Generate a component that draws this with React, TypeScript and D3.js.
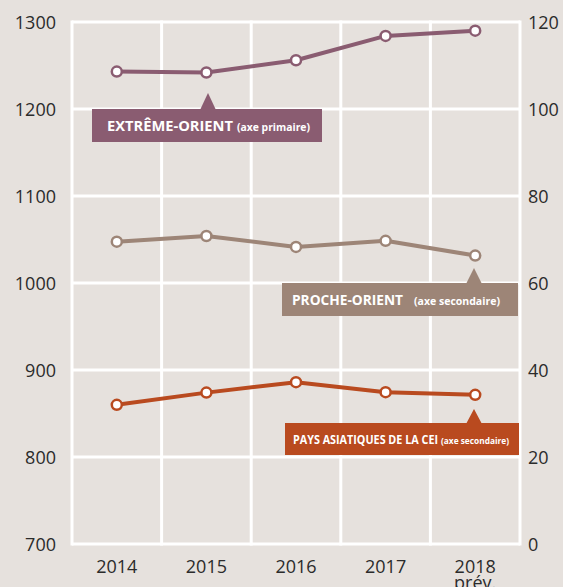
import React from "react";
import * as d3 from "d3";

const years = ["2014", "2015", "2016", "2017", "2018"];
const extremeOrient = [1243, 1242, 1256, 1284, 1290]; // primary axis
const procheOrient = [69.5, 70.8, 68.3, 69.7, 66.3]; // secondary axis
const cei = [32.0, 34.8, 37.2, 34.9, 34.3]; // secondary axis
const leftTicks = [700, 800, 900, 1000, 1100, 1200, 1300];
const rightTicks = [0, 20, 40, 60, 80, 100, 120];

const W = 563;
const H = 587;
const M = { left: 72, right: 520, top: 22, bottom: 544 };
const BG = "#e6e1dd";
const C_EO = "#8a5c71";
const C_PO = "#9d8577";
const C_CEI = "#b94a1f";
const FONT = "'Open Sans', 'Noto Sans', sans-serif";

export default function App() {
  const x = d3.scaleBand<string>().domain(years).range([M.left, M.right]);
  const yL = d3.scaleLinear().domain([700, 1300]).range([M.bottom, M.top]);
  const yR = d3.scaleLinear().domain([0, 120]).range([M.bottom, M.top]);
  const cx = (i: number) => (x(years[i]) as number) + x.bandwidth() / 2;

  const lineL = d3.line<number>().x((_, i) => cx(i)).y((d) => yL(d));
  const lineR = d3.line<number>().x((_, i) => cx(i)).y((d) => yR(d));

  const series = [
    { data: extremeOrient, color: C_EO, line: lineL, y: yL },
    { data: procheOrient, color: C_PO, line: lineR, y: yR },
    { data: cei, color: C_CEI, line: lineR, y: yR },
  ];

  const edges = [...years.map((y) => x(y) as number), M.right];

  const callout = (
    bx: number, by: number, bw: number, bh: number,
    ax: number, ay: number, color: string,
    main: string, sub: string, mainSize: number, subSize: number,
    tx: number, ty: number, mainLen: number, subX: number, subLen: number
  ) => (
    <g>
      <path d={`M${ax - 8},${by + 1} L${ax},${ay} L${ax + 8},${by + 1} Z`} fill={color} />
      <rect x={bx} y={by} width={bw} height={bh} fill={color} />
      <text x={tx} y={ty} fill="#fff" fontFamily={FONT} fontWeight="bold" fontSize={mainSize}
        textLength={mainLen} lengthAdjust="spacingAndGlyphs">
        {main}
      </text>
      <text x={subX} y={ty} fill="#fff" fontFamily={FONT} fontWeight="bold" fontSize={subSize}
        textLength={subLen} lengthAdjust="spacingAndGlyphs">
        {sub}
      </text>
    </g>
  );

  return (
    <svg width={W} height={H} style={{ position: "absolute", left: 0, top: 0 }}>
      <rect width={W} height={H} fill={BG} />
      {leftTicks.map((t) => (
        <line key={"h" + t} x1={M.left} x2={M.right} y1={yL(t)} y2={yL(t)} stroke="#fff" strokeWidth={3} />
      ))}
      {edges.map((e, i) => (
        <line key={"v" + i} x1={e} x2={e} y1={M.top - 1.5} y2={M.bottom + 1.5} stroke="#fff" strokeWidth={3} />
      ))}
      {leftTicks.map((t) => (
        <text key={"lt" + t} x={56} y={yL(t) + 6.5} textAnchor="end" fontFamily={FONT} fontSize={18} fill="#2b2b2b">
          {t}
        </text>
      ))}
      {rightTicks.map((t) => (
        <text key={"rt" + t} x={528} y={yR(t) + 6.5} textAnchor="start" fontFamily={FONT} fontSize={18} fill="#2b2b2b">
          {t}
        </text>
      ))}
      {years.map((yv, i) => (
        <text key={"x" + yv} x={cx(i)} y={573} textAnchor="middle" fontFamily={FONT} fontSize={18} fill="#2b2b2b">
          {yv}
        </text>
      ))}
      <text x={cx(4)} y={589} textAnchor="middle" fontFamily={FONT} fontSize={18} fill="#2b2b2b">
        prév.
      </text>
      {series.map((s, k) => (
        <g key={"s" + k}>
          <path d={s.line(s.data) as string} fill="none" stroke={s.color} strokeWidth={4} strokeLinejoin="round" />
          {s.data.map((d, i) => (
            <circle key={i} cx={cx(i)} cy={s.y(d)} r={5} fill="#fff" stroke={s.color} strokeWidth={2.5} />
          ))}
        </g>
      ))}
      {callout(92, 109, 230, 33, 208, 93, C_EO, "EXTRÊME-ORIENT", "(axe primaire)", 15, 10.5, 107, 131, 126, 237, 73)}
      {callout(282, 283, 236, 33, 474, 268, C_PO, "PROCHE-ORIENT", "(axe secondaire)", 15, 10.5, 292, 305, 111, 414, 86)}
      {callout(285, 423, 234, 32, 474, 409, C_CEI, "PAYS ASIATIQUES DE LA CEI", "(axe secondaire)", 12, 9, 293, 444, 145, 441, 68)}
    </svg>
  );
}
